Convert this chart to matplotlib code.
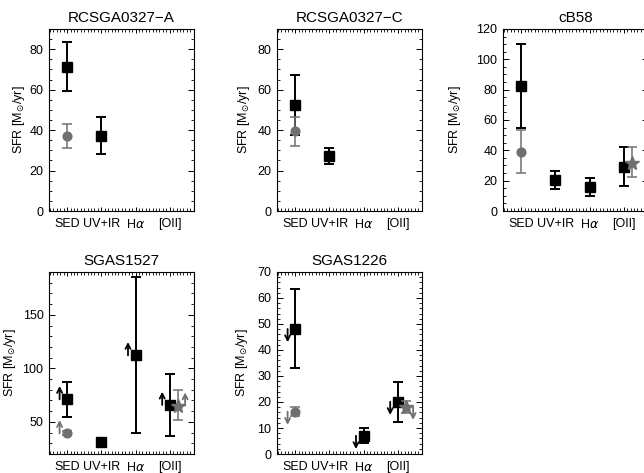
import matplotlib
matplotlib.use('Agg')
import matplotlib.pyplot as plt
import numpy as np
from matplotlib.transforms import offset_copy
from matplotlib.ticker import MultipleLocator

plt.rcParams['font.family'] = ['Liberation Sans', 'DejaVu Sans']

nan = np.nan

categories = ['SED', 'UV+IR', 'H$\\alpha$', '[OII]']
titles = ['RCSGA0327\u2212A', 'RCSGA0327\u2212C', 'cB58', 'SGAS1527', 'SGAS1226']

# black squares (value, lower, upper) per category
black_val = [
    [71.4, 37.1, nan, nan],
    [52.4, 27.4, nan, nan],
    [82.6, 20.2, 16.0, 29.2],
    [71.1, 31.2, 112.2, 65.8],
    [48.1, nan, 7.0, 20.1],
]
black_lo = [
    [59.5, 28.2, nan, nan],
    [37.5, 23.2, nan, nan],
    [54.9, 14.3, 10.1, 16.5],
    [54.9, 30.0, 39.3, 37.1],
    [33.2, nan, 4.1, 12.2],
]
black_hi = [
    [83.4, 46.3, nan, nan],
    [67.3, 31.3, nan, nan],
    [109.9, 26.2, 22.0, 42.4],
    [87.0, 32.4, 185.3, 94.7],
    [63.3, nan, 9.9, 27.8],
]
# +1 lower limit (up arrow), -1 upper limit (down arrow), 0 none
black_limit = [
    [0, 0, 0, 0],
    [0, 0, 0, 0],
    [0, 0, 0, 0],
    [1, 0, 1, 1],
    [-1, 0, -1, -1],
]

# gray circle (SED)
gray_sed_val = [37.1, 39.6, 39.1, 39.3, 16.3]
gray_sed_lo = [31.3, 32.3, 25.3, 37.3, 14.5]
gray_sed_hi = [43.0, 46.3, 53.4, 41.3, 18.2]
gray_sed_limit = [0, 0, 0, 1, -1]

# gray star ([OII])
gray_oii_val = [nan, nan, 31.4, 65.1, 18.2]
gray_oii_lo = [nan, nan, 22.2, 51.8, 15.9]
gray_oii_hi = [nan, nan, 42.4, 79.8, 20.5]
gray_oii_limit = [0, 0, 0, 1, -1]

ylims = [(0, 90), (0, 90), (0, 120), (20, 190), (0, 70)]
ymajor = [20, 20, 20, 50, 10]
yminor = [5, 5, 5, 10, 2]

W, H = 644, 473
fig = plt.figure(figsize=(W / 100, H / 100), dpi=100)

boxes = [(49, 29), (277, 29), (503, 29), (49, 272), (277, 272)]
ylabel_x = [-0.152, -0.172, -0.276, -0.214, -0.186]
aw, ah = 145, 182

GRAY = '#707070'
xs = np.arange(1, 5)
STAR_DX = 0.23
ARROW_DX = 0.22


def arrow(ax, x, y, d, color):
    head = offset_copy(ax.transData, fig=fig, x=0, y=d * 9.5, units='points')
    ax.annotate('', xy=(x, y), xycoords=head, xytext=(x, y), textcoords='data',
                arrowprops=dict(arrowstyle='->,head_length=0.35,head_width=0.18',
                                color=color, lw=1.3, shrinkA=0, shrinkB=0))


for i in range(5):
    x0, y0 = boxes[i]
    ax = fig.add_axes([x0 / W, 1 - (y0 + ah) / H, aw / W, ah / H])
    ax.set_xlim(0.47, 4.71)
    ax.set_ylim(*ylims[i])

    bv = np.array(black_val[i]); bl = np.array(black_lo[i]); bh = np.array(black_hi[i])
    m = ~np.isnan(bv)
    ax.errorbar(xs[m], bv[m], yerr=[bv[m] - bl[m], bh[m] - bv[m]], fmt='s',
                color='black', ms=7.5, capsize=3.5, elinewidth=1.4, capthick=1.4, zorder=3)
    for j in range(4):
        if black_limit[i][j] != 0:
            arrow(ax, xs[j] - ARROW_DX, bv[j], black_limit[i][j], 'black')

    gv = gray_sed_val[i]
    ax.errorbar([1], [gv], yerr=[[gv - gray_sed_lo[i]], [gray_sed_hi[i] - gv]], fmt='o',
                color=GRAY, ms=6.3, capsize=3.5, elinewidth=1.1, capthick=1.1, zorder=4)
    if gray_sed_limit[i] != 0:
        arrow(ax, 1 - ARROW_DX, gv, gray_sed_limit[i], GRAY)

    sv = gray_oii_val[i]
    if not np.isnan(sv):
        ax.errorbar([4 + STAR_DX], [sv], yerr=[[sv - gray_oii_lo[i]], [gray_oii_hi[i] - sv]],
                    fmt='*', color=GRAY, ms=10.5, capsize=3.5, elinewidth=1.1, capthick=1.1,
                    zorder=4)
        if gray_oii_limit[i] != 0:
            arrow(ax, 4 + STAR_DX + ARROW_DX, sv, gray_oii_limit[i], GRAY)

    ax.set_xticks(xs)
    ax.set_xticklabels(categories, fontsize=9)
    ax.xaxis.set_minor_locator(MultipleLocator(0.1))
    ax.yaxis.set_major_locator(MultipleLocator(ymajor[i]))
    ax.yaxis.set_minor_locator(MultipleLocator(yminor[i]))
    ax.tick_params(which='both', direction='in', top=True, right=True, labelsize=9)
    ax.tick_params(which='major', length=4, width=0.7, pad=4)
    ax.tick_params(which='minor', length=2, width=0.6)
    ax.tick_params(axis='x', which='major', length=3, pad=5)
    for s in ax.spines.values():
        s.set_linewidth(0.8)
    ax.set_ylabel('SFR [M$_{\\odot}$/yr]', fontsize=9)
    ax.yaxis.set_label_coords(ylabel_x[i], 0.5)
    ax.set_title(titles[i], fontsize=11, pad=5)

fig.savefig('out.png', dpi=100)
